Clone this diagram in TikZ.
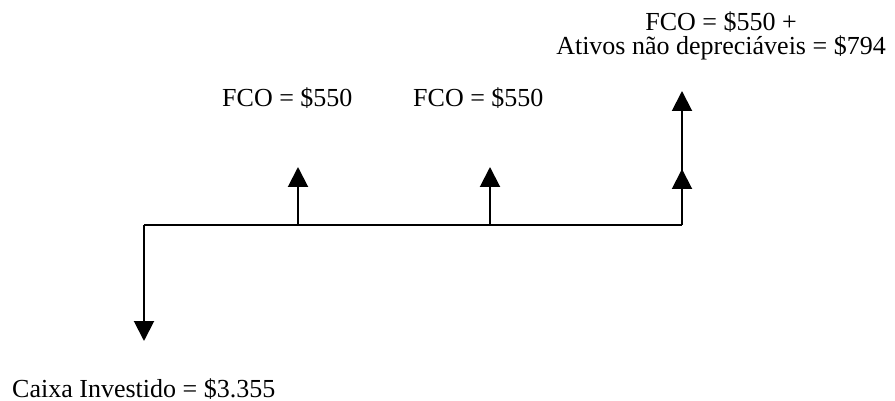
\documentclass[tikz,border=0pt]{standalone}
\usepackage{fontspec}
\setmainfont{Liberation Serif}
\usetikzlibrary{arrows.meta}
\begin{document}
\begin{tikzpicture}[x=1pt,y=-1pt,
  lbl/.style={inner sep=0pt,font=\fontsize{26}{24}\selectfont},
  flow/.style={line width=2pt,-{Triangle[width=20pt,length=20pt]}},
  axis/.style={line width=1.3pt}]
\useasboundingbox (0,0) rectangle (895,401);
\coordinate (t0) at (144,225);
\coordinate (t1) at (298,225);
\coordinate (t2) at (490,225);
\coordinate (t3) at (682,225);
\coordinate (d0) at (144,341);
\coordinate (u1) at (298,167);
\coordinate (u2) at (490,167);
\coordinate (u3) at (682,169);
\coordinate (u3b) at (682,91);
\draw[axis] (t0) -- (t3);
\draw[flow] (t0) -- (d0);
\draw[flow] (t1) -- (u1);
\draw[flow] (t2) -- (u2);
\draw[flow] (t3) -- (u3b);
\draw[flow] (t3) -- (u3);
\node[lbl,anchor=base west] (c0) at (12,397) {Caixa Investido = \$3.355};
\node[lbl,anchor=base west] (f1) at (222,107) {FCO = \$550};
\node[lbl,anchor=base west] (f2) at (413,107) {FCO = \$550};
\node[lbl,anchor=base,align=center] (f3) at (721,55) {FCO = \$550 +\\Ativos não depreciáveis = \$794};
\end{tikzpicture}
\end{document}
